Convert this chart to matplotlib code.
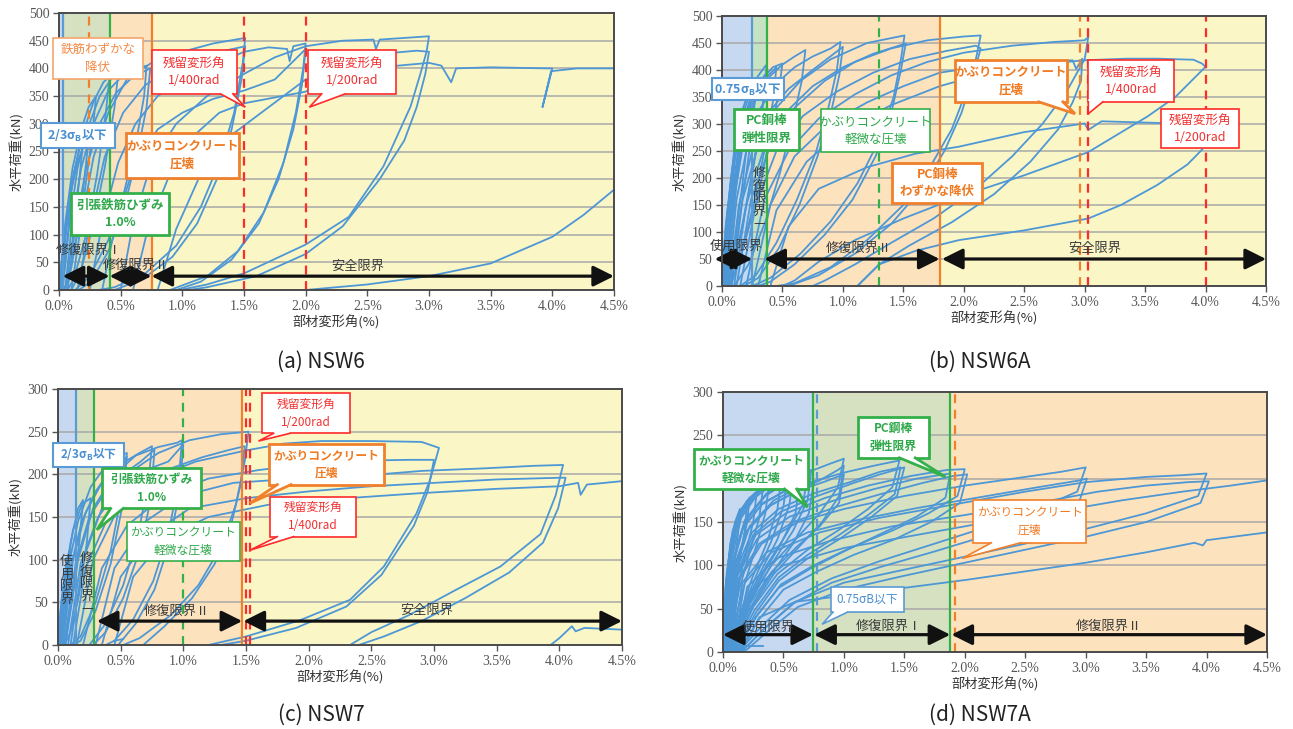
import matplotlib.pyplot as plt
from matplotlib.patches import Rectangle, Polygon

plt.rcParams['font.family'] = ['Noto Sans CJK JP', 'DejaVu Sans']

xticks = [0.0, 0.5, 1.0, 1.5, 2.0, 2.5, 3.0, 3.5, 4.0, 4.5]
captions = ['(a) NSW6', '(b) NSW6A', '(c) NSW7', '(d) NSW7A']
ymax = [500, 500, 300, 300]
# y tick labels hidden under a callout box
hidden_yticks = [[], [], [], [200]]

# hysteresis loops (drift %, load kN), positive side only
loops_a = [
    [(0, 0), (0.02, 50), (0.05, 100), (0.04, 60), (0.02, 20), (0.01, 0)],
    [(0, 0), (0.03, 70), (0.07, 130), (0.10, 170), (0.08, 120), (0.05, 50), (0.02, 0)],
    [(0.01, 0), (0.04, 90), (0.09, 170), (0.15, 230), (0.19, 255), (0.16, 190), (0.11, 90), (0.05, 0)],
    [(0.01, 0), (0.05, 100), (0.10, 190), (0.16, 250), (0.21, 280), (0.25, 295), (0.22, 230), (0.17, 130), (0.10, 40), (0.05, 0)],
    [(0.01, 0), (0.05, 120), (0.11, 220), (0.18, 290), (0.24, 330), (0.30, 350), (0.27, 280), (0.21, 180), (0.13, 80), (0.06, 10), (0.03, 0)],
    [(0.02, 0), (0.06, 110), (0.12, 210), (0.19, 280), (0.28, 340), (0.36, 375), (0.41, 385), (0.38, 320), (0.31, 210), (0.22, 100), (0.12, 20), (0.07, 0)],
    [(0.03, 0), (0.08, 110), (0.15, 220), (0.23, 290), (0.33, 350), (0.42, 380), (0.48, 390), (0.45, 330), (0.37, 220), (0.27, 110), (0.17, 30), (0.10, 0)],
    [(0.05, 0), (0.10, 110), (0.18, 220), (0.28, 300), (0.40, 360), (0.55, 395), (0.71, 405), (0.69, 350), (0.62, 260), (0.52, 170), (0.40, 90), (0.25, 25), (0.13, 0)],
    [(0.07, 0), (0.13, 110), (0.22, 220), (0.33, 300), (0.46, 355), (0.60, 385), (0.74, 400), (0.71, 330), (0.63, 240), (0.53, 150), (0.40, 70), (0.26, 15), (0.16, 0)],
    [(0.10, 0), (0.18, 120), (0.28, 240), (0.40, 320), (0.55, 380), (0.75, 410), (1.0, 430), (1.25, 445), (1.51, 455), (1.49, 410), (1.42, 320), (1.30, 230), (1.15, 150), (0.95, 80), (0.70, 30), (0.45, 5), (0.32, 0)],
    [(0.15, 0), (0.25, 120), (0.37, 240), (0.52, 320), (0.70, 370), (0.95, 405), (1.2, 425), (1.51, 440), (1.48, 380), (1.40, 290), (1.28, 200), (1.12, 120), (0.92, 60), (0.68, 20), (0.45, 0)],
    [(0.25, 0), (0.35, 120), (0.48, 230), (0.62, 300), (0.80, 350), (1.0, 380), (1.3, 410), (1.5, 430), (1.7, 438), (1.85, 435), (1.87, 413), (1.90, 440), (2.0, 445), (1.98, 400), (1.92, 320), (1.82, 230), (1.66, 140), (1.45, 70), (1.2, 25), (0.9, 0)],
    [(0.35, 0), (0.45, 110), (0.60, 220), (0.80, 290), (1.0, 320), (1.25, 345), (1.5, 360), (1.75, 380), (2.0, 435), (1.97, 370), (1.90, 290), (1.78, 200), (1.62, 120), (1.40, 55), (1.15, 15), (0.95, 0)],
    [(0.50, 0), (0.60, 120), (0.75, 230), (0.95, 300), (1.2, 350), (1.5, 390), (1.75, 420), (2.0, 440), (2.3, 450), (2.55, 452), (2.57, 435), (2.6, 452), (2.8, 455), (3.0, 458), (2.98, 430), (2.93, 390), (2.85, 331), (2.63, 223), (2.35, 132), (2.0, 82), (1.5, 30), (1.2, 10), (0.98, 0)],
    [(0.60, 0), (0.72, 110), (0.9, 210), (1.1, 280), (1.3, 320), (1.5, 337), (2.0, 358), (2.3, 395), (2.5, 420), (2.7, 428), (2.9, 432), (3.0, 430), (2.97, 390), (2.9, 330), (2.8, 270), (2.6, 200), (2.3, 115), (2.0, 65), (1.6, 25), (1.2, 5), (1.05, 0)],
    [(0.80, 0), (0.95, 110), (1.15, 210), (1.4, 280), (1.7, 330), (2.0, 380), (2.5, 400), (3.0, 410), (3.1, 405), (3.18, 375), (3.22, 400), (3.5, 402), (3.95, 400), (4.0, 400), (3.92, 330), (3.99, 395), (4.2, 400), (4.5, 400)],
    [(2.0, 0), (2.5, 10), (3.0, 25), (3.5, 48), (4.0, 96), (4.25, 135), (4.5, 181)],
]

loops_b = [
    [(0, 0), (0.02, 80), (0.05, 150), (0.04, 90), (0.02, 30), (0.01, 0)],
    [(0, 0), (0.03, 100), (0.07, 190), (0.10, 240), (0.08, 170), (0.05, 80), (0.02, 0)],
    [(0, 0), (0.03, 110), (0.08, 210), (0.12, 270), (0.15, 300), (0.12, 220), (0.08, 120), (0.04, 30), (0.01, 0)],
    [(0.01, 0), (0.04, 120), (0.09, 220), (0.14, 290), (0.17, 320), (0.14, 240), (0.10, 140), (0.05, 40), (0.02, 0)],
    [(0.01, 0), (0.05, 140), (0.10, 250), (0.16, 320), (0.22, 360), (0.25, 370), (0.22, 290), (0.17, 190), (0.11, 90), (0.05, 0)],
    [(0.01, 0), (0.05, 130), (0.11, 240), (0.18, 310), (0.24, 350), (0.28, 365), (0.25, 290), (0.19, 190), (0.12, 90), (0.05, 10), (0.03, 0)],
    [(0.02, 0), (0.06, 150), (0.12, 260), (0.19, 330), (0.27, 380), (0.35, 405), (0.37, 410), (0.34, 340), (0.28, 250), (0.20, 150), (0.12, 60), (0.06, 0)],
    [(0.02, 0), (0.07, 150), (0.14, 260), (0.22, 330), (0.30, 375), (0.37, 395), (0.33, 320), (0.26, 220), (0.17, 110), (0.08, 20), (0.04, 0)],
    [(0.03, 0), (0.08, 150), (0.15, 260), (0.23, 330), (0.32, 380), (0.42, 405), (0.50, 412), (0.47, 360), (0.40, 280), (0.31, 180), (0.20, 90), (0.10, 20), (0.06, 0)],
    [(0.03, 0), (0.09, 160), (0.17, 270), (0.26, 340), (0.36, 385), (0.45, 405), (0.42, 340), (0.35, 250), (0.26, 150), (0.15, 50), (0.07, 0)],
    [(0.04, 0), (0.10, 160), (0.18, 270), (0.27, 340), (0.38, 385), (0.50, 410), (0.60, 425), (0.69, 437), (0.66, 380), (0.58, 300), (0.48, 210), (0.36, 120), (0.22, 40), (0.10, 0)],
    [(0.05, 0), (0.12, 160), (0.21, 260), (0.32, 330), (0.45, 375), (0.60, 405), (0.75, 425), (0.90, 440), (0.98, 452), (0.95, 400), (0.88, 330), (0.78, 250), (0.62, 160), (0.45, 80), (0.28, 20), (0.15, 0)],
    [(0.06, 0), (0.14, 150), (0.25, 250), (0.38, 320), (0.55, 365), (0.75, 400), (1.0, 443), (0.97, 390), (0.90, 320), (0.79, 240), (0.64, 150), (0.47, 70), (0.30, 15), (0.18, 0)],
    [(0.08, 0), (0.17, 160), (0.30, 260), (0.45, 330), (0.65, 380), (0.9, 420), (1.2, 450), (1.51, 464), (1.48, 420), (1.42, 350), (1.30, 270), (1.12, 190), (0.9, 120), (0.65, 60), (0.4, 15), (0.25, 0)],
    [(0.10, 0), (0.20, 150), (0.34, 250), (0.52, 320), (0.75, 370), (1.0, 405), (1.25, 430), (1.52, 449), (1.48, 400), (1.40, 320), (1.27, 240), (1.08, 160), (0.85, 95), (0.6, 40), (0.4, 8), (0.3, 0)],
    [(0.12, 0), (0.24, 160), (0.40, 260), (0.6, 330), (0.85, 380), (1.1, 415), (1.4, 440), (1.7, 455), (2.0, 462), (2.14, 464), (2.1, 420), (2.02, 360), (1.9, 290), (1.72, 220), (1.5, 150), (1.2, 85), (0.9, 35), (0.6, 5), (0.45, 0)],
    [(0.15, 0), (0.28, 150), (0.45, 250), (0.67, 315), (0.95, 360), (1.25, 395), (1.55, 420), (1.85, 435), (2.1, 445), (2.14, 440), (2.08, 390), (1.98, 320), (1.84, 250), (1.65, 180), (1.4, 115), (1.1, 60), (0.8, 20), (0.55, 0)],
    [(0.2, 0), (0.35, 160), (0.55, 250), (0.8, 310), (1.1, 355), (1.4, 390), (1.7, 415), (2.0, 432), (2.4, 445), (2.75, 452), (3.0, 455), (3.03, 461), (3.0, 420), (2.95, 400), (2.85, 360), (2.65, 300), (2.4, 240), (2.1, 180), (1.75, 125), (1.4, 80), (1.1, 40), (0.85, 10), (0.75, 0)],
    [(0.25, 0), (0.4, 150), (0.6, 240), (0.88, 300), (1.2, 340), (1.5, 370), (1.8, 395), (2.1, 405), (2.4, 410), (2.7, 415), (2.9, 418), (2.93, 402), (2.98, 421), (2.97, 380), (2.9, 340), (2.78, 290), (2.55, 230), (2.25, 170), (1.9, 118), (1.55, 75), (1.3, 40), (1.12, 0)],
    [(0.3, 0), (0.45, 140), (0.7, 230), (1.0, 290), (1.4, 335), (1.8, 370), (2.2, 395), (2.6, 410), (3.0, 418), (3.35, 421), (3.6, 421), (3.9, 419), (3.97, 412), (4.0, 406), (3.75, 350), (3.52, 314), (3.03, 248), (2.5, 205), (1.96, 165), (1.5, 125), (1.1, 85), (0.8, 45), (0.6, 10), (0.5, 0)],
    [(0.4, 0), (0.55, 110), (0.8, 180), (1.2, 220), (1.6, 245), (1.96, 258), (2.5, 285), (3.0, 301), (3.03, 289), (3.14, 305), (3.6, 302), (3.9, 300)],
    [(1.12, 0), (1.3, 40), (1.6, 65), (1.96, 85), (2.5, 103), (3.03, 125), (3.3, 150), (3.6, 187), (3.85, 225), (3.96, 250), (4.05, 275)],
]

loops_c = [
    [(0, 0), (0.02, 40), (0.05, 75), (0.04, 40), (0.02, 10), (0.01, 0)],
    [(0, 0), (0.03, 55), (0.07, 100), (0.10, 115), (0.08, 70), (0.05, 30), (0.02, 0)],
    [(0.01, 0), (0.05, 70), (0.10, 120), (0.16, 160), (0.20, 170), (0.17, 120), (0.12, 60), (0.06, 10), (0.03, 0)],
    [(0.01, 0), (0.06, 80), (0.12, 135), (0.19, 165), (0.26, 172), (0.23, 120), (0.17, 60), (0.10, 15), (0.05, 0)],
    [(0.02, 0), (0.08, 90), (0.16, 145), (0.26, 185), (0.38, 210), (0.50, 222), (0.55, 225), (0.50, 170), (0.42, 110), (0.30, 50), (0.18, 10), (0.10, 0)],
    [(0.03, 0), (0.10, 90), (0.19, 145), (0.30, 180), (0.42, 205), (0.52, 215), (0.55, 221), (0.51, 160), (0.42, 95), (0.30, 40), (0.18, 5), (0.12, 0)],
    [(0.04, 0), (0.12, 100), (0.22, 155), (0.35, 190), (0.50, 212), (0.65, 225), (0.75, 233), (0.72, 190), (0.64, 130), (0.52, 70), (0.38, 25), (0.25, 0)],
    [(0.05, 0), (0.14, 95), (0.25, 150), (0.38, 180), (0.52, 200), (0.66, 215), (0.77, 229), (0.74, 170), (0.65, 110), (0.52, 55), (0.38, 15), (0.28, 0)],
    [(0.06, 0), (0.16, 100), (0.28, 160), (0.45, 200), (0.62, 222), (0.80, 232), (0.95, 237), (0.99, 240), (0.96, 190), (0.88, 130), (0.76, 75), (0.60, 30), (0.45, 5), (0.38, 0)],
    [(0.08, 0), (0.18, 95), (0.32, 150), (0.50, 185), (0.70, 205), (0.88, 215), (1.0, 235), (0.97, 180), (0.89, 120), (0.77, 65), (0.62, 25), (0.48, 0)],
    [(0.1, 0), (0.2, 100), (0.35, 160), (0.55, 200), (0.8, 225), (1.05, 240), (1.3, 247), (1.52, 250), (1.49, 215), (1.42, 165), (1.30, 115), (1.12, 70), (0.9, 35), (0.65, 8), (0.52, 0)],
    [(0.12, 0), (0.22, 90), (0.4, 150), (0.62, 185), (0.9, 207), (1.15, 220), (1.35, 228), (1.49, 233), (1.46, 190), (1.38, 140), (1.25, 95), (1.07, 55), (0.85, 22), (0.68, 0)],
    [(0.15, 0), (0.28, 100), (0.48, 160), (0.75, 195), (1.1, 215), (1.5, 228), (1.8, 236), (2.1, 239), (2.5, 239), (2.9, 238), (3.04, 231), (2.97, 194), (2.86, 154), (2.6, 92), (2.33, 53), (1.93, 29), (1.5, 10), (1.2, 0)],
    [(0.2, 0), (0.35, 90), (0.55, 140), (0.85, 175), (1.2, 195), (1.6, 205), (2.0, 212), (2.4, 216), (2.8, 217), (3.0, 217), (2.95, 180), (2.84, 140), (2.58, 82), (2.3, 45), (1.9, 20), (1.5, 5), (1.3, 0)],
    [(0.3, 0), (0.45, 90), (0.7, 145), (1.0, 175), (1.4, 190), (1.9, 195), (2.4, 198), (2.9, 204), (3.4, 207), (3.8, 210), (4.03, 211), (3.97, 175), (3.85, 130), (3.53, 92), (3.18, 65), (2.8, 35), (2.5, 15), (2.33, 0)],
    [(0.35, 0), (0.5, 80), (0.75, 130), (1.05, 160), (1.5, 172), (2.0, 180), (2.5, 186), (3.0, 190), (3.5, 194), (4.0, 196), (4.05, 196), (3.99, 160), (3.87, 120), (3.6, 85), (3.25, 55), (2.9, 28), (2.6, 10), (2.4, 0)],
    [(0.45, 0), (0.6, 80), (0.85, 125), (1.2, 150), (1.7, 165), (2.3, 172), (2.9, 178), (3.5, 183), (4.0, 186), (4.15, 190), (4.17, 176), (4.22, 188), (4.5, 192)],
    [(3.93, 0), (4.0, 8), (4.05, 15), (4.1, 22), (4.13, 16), (4.2, 20), (4.5, 18)],
    [(0.45, 5), (0.52, 7)],
]

loops_d = [
    [(0, 0), (0.01, 40), (0.03, 80), (0.02, 40), (0.01, 0)],
    [(0, 0), (0.02, 60), (0.05, 110), (0.08, 130), (0.06, 90), (0.03, 40), (0.01, 0)],
    [(0, 0), (0.02, 70), (0.06, 125), (0.10, 150), (0.14, 165), (0.12, 130), (0.07, 80), (0.03, 25), (0.01, 0)],
    [(0, 0), (0.03, 80), (0.08, 135), (0.14, 160), (0.20, 175), (0.18, 140), (0.12, 95), (0.06, 40), (0.02, 0)],
    [(0, 0), (0.02, 75), (0.07, 130), (0.12, 155), (0.18, 170), (0.22, 178), (0.20, 150), (0.14, 110), (0.08, 60), (0.03, 10), (0.01, 0)],
    [(0.01, 0), (0.03, 85), (0.09, 140), (0.17, 168), (0.25, 180), (0.28, 185), (0.25, 150), (0.18, 110), (0.10, 60), (0.04, 10), (0.02, 0)],
    [(0.01, 0), (0.03, 90), (0.08, 140), (0.15, 165), (0.24, 180), (0.33, 188), (0.30, 155), (0.22, 115), (0.13, 70), (0.05, 15), (0.02, 0)],
    [(0.01, 0), (0.04, 90), (0.10, 145), (0.19, 172), (0.30, 185), (0.38, 192), (0.35, 160), (0.27, 120), (0.17, 75), (0.08, 25), (0.03, 0)],
    [(0.01, 0), (0.04, 95), (0.11, 150), (0.22, 178), (0.35, 192), (0.48, 198), (0.45, 165), (0.36, 125), (0.24, 85), (0.12, 35), (0.04, 0)],
    [(0.01, 0), (0.05, 95), (0.12, 148), (0.24, 176), (0.40, 192), (0.53, 200), (0.50, 168), (0.40, 128), (0.28, 90), (0.14, 42), (0.05, 0)],
    [(0.02, 0), (0.05, 100), (0.13, 155), (0.26, 183), (0.42, 198), (0.58, 205), (0.55, 170), (0.45, 130), (0.32, 95), (0.17, 50), (0.06, 5), (0.03, 0)],
    [(0.02, 0), (0.06, 92), (0.16, 142), (0.32, 170), (0.50, 185), (0.63, 192), (0.60, 160), (0.48, 125), (0.34, 92), (0.18, 48), (0.07, 5), (0.04, 0)],
    [(0.02, 0), (0.07, 100), (0.18, 152), (0.36, 183), (0.56, 198), (0.70, 203), (0.66, 170), (0.52, 135), (0.36, 100), (0.20, 58), (0.08, 10), (0.04, 0)],
    [(0.02, 0), (0.06, 100), (0.15, 155), (0.30, 185), (0.50, 200), (0.68, 208), (0.73, 210), (0.70, 175), (0.58, 140), (0.42, 105), (0.24, 62), (0.10, 15), (0.04, 0)],
    [(0.02, 0), (0.07, 95), (0.17, 145), (0.33, 172), (0.52, 186), (0.70, 193), (0.75, 195), (0.71, 160), (0.58, 125), (0.40, 90), (0.22, 50), (0.09, 10), (0.05, 0)],
    [(0.03, 0), (0.08, 100), (0.18, 150), (0.35, 180), (0.55, 198), (0.75, 210), (0.9, 218), (1.0, 223), (0.95, 190), (0.80, 160), (0.60, 130), (0.40, 100), (0.22, 60), (0.10, 15), (0.05, 0)],
    [(0.03, 0), (0.08, 95), (0.2, 140), (0.4, 170), (0.62, 186), (0.85, 197), (1.0, 205), (0.96, 172), (0.8, 145), (0.6, 120), (0.4, 92), (0.22, 55), (0.1, 12), (0.05, 0)],
    [(0.03, 0), (0.09, 95), (0.20, 140), (0.38, 168), (0.60, 185), (0.80, 198), (0.95, 210), (1.0, 215), (0.96, 180), (0.82, 150), (0.62, 120), (0.42, 90), (0.24, 52), (0.11, 10), (0.06, 0)],
    [(0.04, 0), (0.10, 95), (0.22, 145), (0.42, 175), (0.70, 195), (1.0, 207), (1.25, 215), (1.46, 221), (1.40, 190), (1.20, 165), (0.95, 140), (0.70, 118), (0.45, 90), (0.25, 52), (0.12, 12), (0.07, 0)],
    [(0.04, 0), (0.1, 92), (0.24, 138), (0.46, 165), (0.75, 183), (1.05, 196), (1.3, 208), (1.47, 213), (1.42, 182), (1.2, 158), (0.95, 134), (0.7, 112), (0.46, 86), (0.26, 48), (0.12, 10), (0.07, 0)],
    [(0.04, 0), (0.11, 90), (0.25, 135), (0.48, 162), (0.78, 180), (1.08, 195), (1.3, 205), (1.5, 213), (1.44, 180), (1.22, 155), (0.96, 130), (0.70, 108), (0.46, 82), (0.27, 45), (0.13, 8), (0.08, 0)],
    [(0.05, 0), (0.12, 88), (0.28, 130), (0.55, 156), (0.9, 174), (1.25, 188), (1.6, 200), (1.88, 206), (1.84, 178), (1.6, 156), (1.3, 136), (1.0, 116), (0.72, 96), (0.46, 74), (0.27, 40), (0.13, 7), (0.08, 0)],
    [(0.05, 0), (0.12, 90), (0.27, 135), (0.52, 160), (0.85, 178), (1.2, 192), (1.55, 203), (1.85, 210), (2.0, 211), (1.94, 180), (1.70, 160), (1.40, 140), (1.05, 120), (0.75, 100), (0.48, 78), (0.28, 42), (0.14, 8), (0.09, 0)],
    [(0.05, 0), (0.13, 85), (0.30, 125), (0.58, 150), (0.95, 168), (1.3, 182), (1.65, 195), (1.9, 203), (2.02, 205), (1.96, 172), (1.72, 150), (1.42, 130), (1.08, 112), (0.78, 93), (0.5, 72), (0.3, 38), (0.15, 6), (0.1, 0)],
    [(0.06, 0), (0.14, 85), (0.32, 125), (0.62, 150), (1.0, 165), (1.5, 180), (2.0, 192), (2.5, 202), (2.8, 208), (3.0, 213), (2.93, 185), (2.6, 165), (2.2, 145), (1.75, 125), (1.3, 105), (0.9, 85), (0.55, 60), (0.32, 30), (0.16, 5), (0.1, 0)],
    [(0.07, 0), (0.16, 80), (0.36, 115), (0.70, 138), (1.1, 152), (1.6, 166), (2.1, 178), (2.6, 190), (2.95, 198), (3.01, 200), (2.95, 175), (2.62, 155), (2.2, 135), (1.75, 116), (1.3, 98), (0.9, 80), (0.58, 56), (0.35, 28), (0.18, 4), (0.12, 0)],
    [(0.08, 0), (0.18, 80), (0.4, 115), (0.8, 138), (1.3, 155), (1.9, 170), (2.5, 185), (3.0, 196), (3.5, 202), (3.8, 204), (4.0, 206), (3.93, 180), (3.5, 160), (3.0, 142), (2.5, 125), (2.0, 110), (1.5, 95), (1.0, 80), (0.6, 58), (0.35, 28), (0.18, 4), (0.12, 0)],
    [(0.09, 0), (0.2, 75), (0.44, 108), (0.88, 128), (1.4, 145), (2.0, 158), (2.6, 172), (3.1, 185), (3.5, 192), (3.85, 196), (4.02, 197), (3.95, 172), (3.5, 150), (3.0, 133), (2.5, 118), (2.0, 103), (1.5, 88), (1.0, 72), (0.62, 52), (0.38, 25), (0.2, 3), (0.14, 0)],
    [(0.1, 0), (0.22, 70), (0.5, 100), (1.0, 120), (1.6, 135), (2.2, 150), (2.8, 163), (3.3, 175), (3.8, 185), (4.2, 192), (4.5, 198)],
    [(0.15, 0), (0.3, 40), (0.6, 58), (1.0, 65), (1.5, 74), (2.0, 83), (2.5, 93), (3.0, 103), (3.5, 115), (3.9, 126), (3.97, 123), (4.0, 129), (4.5, 138)],
    [(0.10, 7), (0.33, 7)],
]

BLUE_BG, GREEN_BG, GREEN_BG2, ORANGE_BG, YELLOW_BG = '#c6d9f0', '#d5e1c1', '#c5e3c3', '#fde3bd', '#faf6c6'
BLUE, GREEN, ORANGE, RED = '#5b9bd5', '#33b04a', '#f0802c', '#ff2a2a'
CURVE = '#4d97d6'

# background zones and limit lines
zones = [
    [(0, 0.03, BLUE_BG), (0.03, 0.41, GREEN_BG), (0.41, 0.75, ORANGE_BG), (0.75, 4.5, YELLOW_BG)],
    [(0, 0.25, BLUE_BG), (0.25, 0.37, GREEN_BG2), (0.37, 1.8, ORANGE_BG), (1.8, 4.5, YELLOW_BG)],
    [(0, 0.14, BLUE_BG), (0.14, 0.29, GREEN_BG), (0.29, 1.47, ORANGE_BG), (1.47, 4.5, YELLOW_BG)],
    [(0, 0.745, BLUE_BG), (0.745, 1.88, GREEN_BG), (1.88, 4.5, ORANGE_BG)],
]
limits = [
    [(0.03, BLUE, '-'), (0.24, ORANGE, '--'), (0.41, GREEN, '-'), (0.75, ORANGE, '-'), (1.5, RED, '--'), (2.0, RED, '--')],
    [(0.25, BLUE, '-'), (0.37, GREEN, '-'), (1.3, GREEN, '--'), (1.8, ORANGE, '-'), (2.96, ORANGE, '--'), (3.03, RED, '--'), (4.0, RED, '--')],
    [(0.14, BLUE, '-'), (0.29, GREEN, '-'), (1.0, GREEN, '--'), (1.47, ORANGE, '-'), (1.5, RED, '--'), (1.53, RED, '--')],
    [(0.745, GREEN, '-'), (0.78, BLUE, '--'), (1.88, GREEN, '-'), (1.92, ORANGE, '--')],
]
ranges = [
    (25, [(0.03, 0.41), (0.41, 0.75), (0.75, 4.5)]),
    (50, [(-0.06, 0.25), (0.35, 1.8), (1.82, 4.5)]),
    (28, [(0.31, 1.47), (1.48, 4.5)]),
    (20, [(0.0, 0.745), (0.755, 1.88), (1.89, 4.5)]),
]
range_labels = [
    [('修復限界Ⅰ', 0.24, 72, False), ('修復限界Ⅱ', 0.62, 44, False), ('安全限界', 2.42, 42, False)],
    [('使用限界', 0.12, 73, False), ('修\n復\n限\n界\n—', 0.31, 162, True), ('修復限界Ⅱ', 1.13, 70, False), ('安全限界', 3.08, 70, False)],
    [('使\n用\n限\n界', 0.07, 76, True), ('修\n復\n限\n界\n—', 0.23, 72, True), ('修復限界Ⅱ', 0.95, 39, False), ('安全限界', 2.94, 41, False)],
    [('使用限界', 0.37, 29, False), ('修復限界Ⅰ', 1.37, 29, False), ('修復限界Ⅱ', 3.19, 29, False)],
]

# callouts: text, box (x0, x1, y0, y1), edge colour, bold, edge width, tail ((bx0, bx1), tip)
notes = [
    [('鉄筋わずかな\n降伏', (-0.05, 0.68, 381, 455), '#f5a56a', False, 1.2, None),
     ('2/3σ$_\\mathregular{B}$以下', (-0.15, 0.45, 256, 302), BLUE, True, 1.5, None),
     ('残留変形角\n1/400rad', (0.75, 1.44, 354, 434), RED, False, 1.2, ((1.31, 1.41), (1.51, 330))),
     ('残留変形角\n1/200rad', (2.02, 2.73, 354, 434), RED, False, 1.2, ((2.13, 2.32), (2.03, 330))),
     ('かぶりコンクリート\n圧壊', (0.54, 1.46, 203, 283), ORANGE, True, 2.0, None),
     ('引張鉄筋ひずみ\n1.0%', (0.10, 0.89, 99, 175), GREEN, True, 2.0, None)],
    [('0.75σ$_\\mathregular{B}$以下', (-0.08, 0.51, 344, 385), BLUE, True, 1.5, None),
     ('PC鋼棒\n弾性限界', (0.10, 0.64, 252, 327), GREEN, True, 2.0, None),
     ('かぶりコンクリート\n軽微な圧壊', (0.82, 1.72, 248, 327), GREEN, False, 1.2, None),
     ('PC鋼棒\nわずかな降伏', (1.41, 2.15, 153, 228), ORANGE, True, 2.0, None),
     ('かぶりコンクリート\n圧壊', (1.93, 2.85, 341, 418), ORANGE, True, 2.0, ((2.62, 2.82), (2.92, 319))),
     ('残留変形角\n1/400rad', (3.03, 3.74, 341, 418), RED, False, 1.2, ((3.03, 3.15), (3.03, 319))),
     ('残留変形角\n1/200rad', (3.63, 4.28, 255, 327), RED, False, 1.2, None)],
    [('2/3σ$_\\mathregular{B}$以下', (-0.04, 0.53, 209, 237), BLUE, True, 1.5, None),
     ('引張鉄筋ひずみ\n1.0%', (0.35, 1.14, 160, 207), GREEN, True, 2.0, ((0.42, 0.52), (0.31, 135))),
     ('かぶりコンクリート\n軽微な圧壊', (0.55, 1.45, 99, 144), GREEN, False, 1.2, None),
     ('残留変形角\n1/200rad', (1.63, 2.33, 248, 295), RED, False, 1.2, ((1.72, 1.85), (1.6, 239))),
     ('かぶりコンクリート\n圧壊', (1.68, 2.60, 188, 236), ORANGE, True, 2.0, ((1.75, 1.86), (1.53, 166))),
     ('残留変形角\n1/400rad', (1.69, 2.38, 127, 174), RED, False, 1.2, ((1.75, 1.88), (1.53, 111)))],
    [('かぶりコンクリート\n軽微な圧壊', (-0.24, 0.70, 188, 234), GREEN, True, 2.0, ((0.51, 0.61), (0.70, 167))),
     ('PC鋼棒\n弾性限界', (1.12, 1.70, 224, 271), GREEN, True, 2.0, ((1.46, 1.59), (1.84, 202))),
     ('0.75σB以下', (0.89, 1.50, 46, 75), BLUE, False, 1.2, ((0.91, 1.03), (0.82, 32))),
     ('かぶりコンクリート\n圧壊', (2.07, 3.00, 126, 175), ORANGE, False, 1.2, ((2.22, 2.46), (1.98, 108)))],
]
text_colours = {BLUE: '#4a8fd0', GREEN: '#2ea84a', ORANGE: '#f07a22', RED: '#f23030', '#f5a56a': '#f28a45'}

positions = [
    [59 / 1293, 1 - 290 / 729, 555 / 1293, 277 / 729],
    [722 / 1293, 1 - 286 / 729, 544 / 1293, 270 / 729],
    [58 / 1293, 1 - 645 / 729, 564 / 1293, 256 / 729],
    [723 / 1293, 1 - 652 / 729, 544 / 1293, 260 / 729],
]
caption_xy = [(321, 362), (980, 362), (321, 715), (980, 715)]


def callout(ax, text, box, ec, bold, lw, tail, fs):
    x0, x1, y0, y1 = box
    ax.add_patch(Rectangle((x0, y0), x1 - x0, y1 - y0, fc='white', ec=ec, lw=lw,
                           zorder=8, clip_on=False))
    ax.text((x0 + x1) / 2, (y0 + y1) / 2, text, ha='center', va='center',
            color=text_colours[ec], fontsize=fs, linespacing=1.45,
            fontweight='bold' if bold else 'normal', zorder=9, clip_on=False)
    if tail:
        (bx0, bx1), (tx, ty) = tail
        d = (y1 - y0) * 0.06
        ax.add_patch(Polygon([(bx0, y0 + d), (bx0, y0), (tx, ty), (bx1, y0), (bx1, y0 + d)],
                             closed=True, fc='white', ec='none', zorder=8.5, clip_on=False))
        ax.plot([bx0, tx, bx1], [y0, ty, y0], color=ec, lw=lw, zorder=8.6,
                clip_on=False, solid_joinstyle='miter')


fig = plt.figure(figsize=(12.93, 7.29), dpi=100)
all_loops = [loops_a, loops_b, loops_c, loops_d]

for i in range(4):
    ax = fig.add_axes(positions[i])
    top = ymax[i]
    ax.set_xlim(0, 4.5)
    ax.set_ylim(0, top)

    for x0, x1, c in zones[i]:
        ax.axvspan(x0, x1, color=c, lw=0, zorder=0)
    for y in range(50, top, 50):
        ax.axhline(y, color='#a8a8a8', lw=1.1, zorder=1)

    for loop in all_loops[i]:
        xs = [p[0] for p in loop]
        ys = [p[1] for p in loop]
        ax.plot(xs, ys, color=CURVE, lw=1.3, zorder=3, solid_joinstyle='round')

    for x, c, ls in limits[i]:
        if ls == '--':
            ax.axvline(x, color=c, lw=1.6, ls=(0, (4, 3)), zorder=4)
        else:
            ax.axvline(x, color=c, lw=1.6, zorder=4)

    y_arrow, spans = ranges[i]
    for x0, x1 in spans:
        ax.annotate('', xy=(x1, y_arrow), xytext=(x0, y_arrow),
                    arrowprops=dict(arrowstyle='<|-|>,head_length=0.9,head_width=0.45',
                                    mutation_scale=14, color='#111111', lw=2.3,
                                    shrinkA=0, shrinkB=0),
                    annotation_clip=False, zorder=6)
    for text, x, y, vertical in range_labels[i]:
        ax.text(x, y, text, ha='center', va='center', color='#3a3a3a',
                fontsize=9.5, linespacing=0.95 if vertical else 1.2, zorder=6)

    fs = 9 if i < 2 else 8.5
    for text, box, ec, bold, lw, tail in notes[i]:
        callout(ax, text, box, ec, bold, lw, tail, fs)

    yvals = list(range(0, top + 1, 50))
    ax.set_xticks(xticks)
    ax.set_xticklabels([f'{v:.1f}%' for v in xticks], fontfamily='Liberation Serif')
    ax.set_yticks(yvals)
    ax.set_yticklabels(['' if v in hidden_yticks[i] else str(v) for v in yvals],
                       fontfamily='Liberation Serif')
    ax.tick_params(labelsize=10, colors='#555555', length=4, width=1, pad=3)
    for s in ax.spines.values():
        s.set_color('#4a4a4a')
        s.set_linewidth(1.4)
        s.set_zorder(7)
    ax.set_xlabel('部材変形角(%)', fontsize=9.5, color='#333333', labelpad=2)
    ax.set_ylabel('水平荷重(kN)', fontsize=9.5, color='#333333', labelpad=3)

    cx, cy = caption_xy[i]
    fig.text(cx / 1293, 1 - cy / 729, captions[i], ha='center', va='center',
             fontsize=15, color='#222222')

fig.savefig('out.png', dpi=100)
